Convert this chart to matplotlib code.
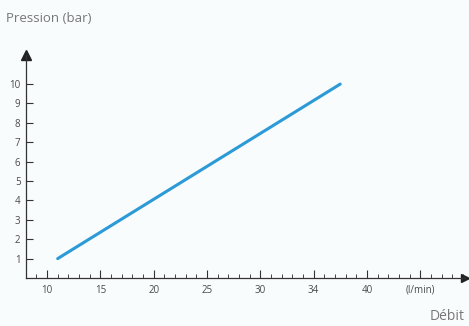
import matplotlib.pyplot as plt
from matplotlib.ticker import MultipleLocator

# data
debit = [11, 37.5]          # l/min
pression = [1, 10]          # bar
x_ticks = [10, 15, 20, 25, 30, 35, 40, 45]
x_labels = ["10", "15", "20", "25", "30", "34", "40", "(l/min)"]
y_ticks = list(range(1, 11))

plt.rcParams['font.family'] = ['Open Sans', 'DejaVu Sans']

fig = plt.figure(figsize=(4.69, 3.26), dpi=100)
fig.patch.set_facecolor("#f9fcfd")
ax = fig.add_axes([26 / 469, 48 / 326, 439 / 469, 223 / 326])
ax.set_facecolor("#f9fcfd")

ax.plot(debit, pression, color="#2b9ad6", lw=2.2, solid_capstyle="round")

ax.set_xlim(8.03, 49.2)
ax.set_ylim(0, 11.5)

for s in ["top", "right"]:
    ax.spines[s].set_visible(False)
for s in ["left", "bottom"]:
    ax.spines[s].set_color("#333333")
    ax.spines[s].set_linewidth(0.9)

# axis arrows
ax.plot(1, 0, ">", color="#222222", ms=6, transform=ax.transAxes, clip_on=False)
ax.plot(0, 1, "^", color="#222222", ms=7, transform=ax.transAxes, clip_on=False)

ax.set_xticks(x_ticks)
ax.set_xticklabels(x_labels)
ax.xaxis.set_minor_locator(MultipleLocator(1))
ax.set_yticks(y_ticks)

ax.tick_params(axis="x", which="major", direction="in", length=6, width=0.8,
               color="#333333", labelsize=7, labelcolor="#4a4a4a", pad=5)
ax.tick_params(axis="x", which="minor", direction="in", length=3, width=0.7,
               color="#444444")
ax.tick_params(axis="y", which="major", direction="in", length=5, width=0.8,
               color="#333333", labelsize=7, labelcolor="#4a4a4a", pad=4)

fig.text(6 / 469, 1 - 18 / 326, "Pression (bar)", fontsize=9.5, color="#777777",
         va="center", ha="left")
fig.text(430 / 469, 1 - 316 / 326, "Débit", fontsize=10, color="#777777",
         va="center", ha="left")

fig.savefig("out.png", dpi=100, facecolor=fig.get_facecolor())
